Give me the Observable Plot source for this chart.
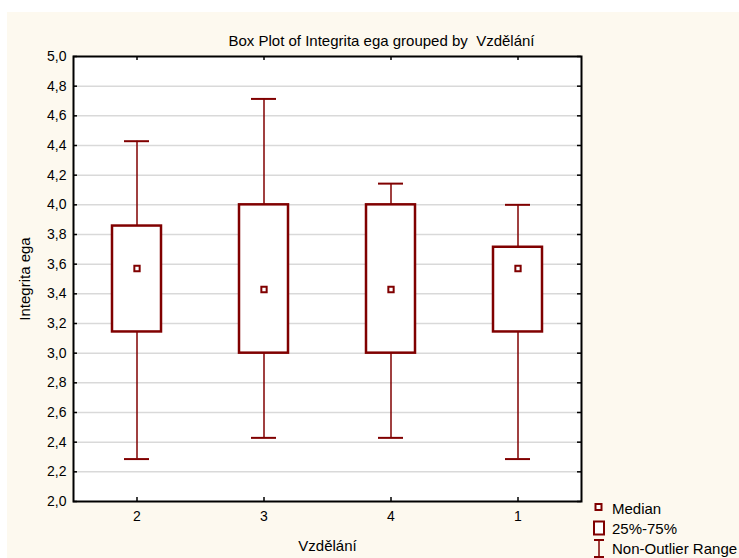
<!DOCTYPE html>
<html><head><meta charset="utf-8">
<script src="https://cdn.jsdelivr.net/npm/d3@7"></script>
<script src="https://cdn.jsdelivr.net/npm/@observablehq/plot@0.6"></script>
<style>
body{margin:0;background:#fff;font-family:"Liberation Sans",Arial,sans-serif;}
#wrap{position:relative;width:739px;height:558px;overflow:hidden;}
#bg{position:absolute;left:7px;top:12px;width:732px;height:546px;background:#fdf9ef;}
#chart{position:absolute;left:0;top:0;}
#chart svg [aria-label$="tick label"], #chart svg [aria-label$="tick label"] text{font-size:14px !important;}
#legend{position:absolute;left:592px;top:498px;font-size:15px;color:#000;white-space:nowrap;}
#legend .row{height:20px;display:flex;align-items:center;}
#legend svg{width:14px;height:20px;margin-right:6px;flex:none;}
</style></head>
<body>
<div id="wrap"><div id="bg"></div><div id="chart"></div>
<div id="legend">
 <div class="row"><svg viewBox="0 0 14 20"><rect x="3.5" y="6" width="6" height="6" fill="white" stroke="#800000" stroke-width="2"/></svg>Median</div>
 <div class="row"><svg viewBox="0 0 14 20"><rect x="2" y="3.5" width="10" height="13" fill="white" stroke="#800000" stroke-width="2"/></svg>25%-75%</div>
 <div class="row"><svg viewBox="0 0 14 20"><line x1="7" x2="7" y1="2" y2="19" stroke="#800000" stroke-width="1.5"/><line x1="2" x2="12" y1="2" y2="2" stroke="#800000" stroke-width="2"/><line x1="2" x2="12" y1="19" y2="19" stroke="#800000" stroke-width="2"/></svg>Non-Outlier Range</div>
</div>
</div>
<script>
const categories = ["2", "3", "4", "1"];
const whiskerLow = [2.286, 2.429, 2.429, 2.286];
const q1 = [3.143, 3.0, 3.0, 3.143];
const median = [3.571, 3.429, 3.429, 3.571];
const q3 = [3.857, 4.0, 4.0, 3.714];
const whiskerHigh = [4.429, 4.714, 4.143, 4.0];
const yTicks = [2.0, 2.2, 2.4, 2.6, 2.8, 3.0, 3.2, 3.4, 3.6, 3.8, 4.0, 4.2, 4.4, 4.6, 4.8, 5.0];
const title = "Box Plot of Integrita ega grouped by  Vzdělání";
const yLabel = "Integrita ega";
const xLabel = "Vzdělání";

const rows = categories.map((c, i) => ({cat: c, lo: whiskerLow[i], q1: q1[i], med: median[i], q3: q3[i], hi: whiskerHigh[i]}));
const red = "#800000";

const chart = Plot.plot({
  width: 739, height: 558,
  marginLeft: 73, marginRight: 158, marginTop: 56, marginBottom: 57,
  x: {domain: categories, padding: 0},
  y: {domain: [2, 5]},
  style: {background: "transparent", fontFamily: "'Liberation Sans', Arial, sans-serif", fontSize: "14px", color: "#000"},
  marks: [
    Plot.frame({fill: "white"}),
    Plot.gridY(yTicks.slice(1, -1), {stroke: "#d9d9d9", strokeOpacity: 1, strokeWidth: 1.5}),
    Plot.ruleX(rows, {x: "cat", y1: "q3", y2: "hi", stroke: red, strokeWidth: 1.5}),
    Plot.ruleX(rows, {x: "cat", y1: "lo", y2: "q1", stroke: red, strokeWidth: 1.5}),
    Plot.tickY(rows, {x: "cat", y: "hi", insetLeft: 51, insetRight: 51, stroke: red, strokeWidth: 2}),
    Plot.tickY(rows, {x: "cat", y: "lo", insetLeft: 51, insetRight: 51, stroke: red, strokeWidth: 2}),
    Plot.barY(rows, {x: "cat", y1: "q1", y2: "q3", fill: "white", stroke: red, strokeWidth: 2.5, insetLeft: 39, insetRight: 39}),
    Plot.dot(rows, {x: "cat", y: "med", symbol: "square", r: 3, fill: "white", stroke: red, strokeWidth: 2}),
    Plot.tickY(yTicks, {y: d => d, insetRight: 504, stroke: "#000", strokeWidth: 1.5}),
    Plot.tickY(yTicks, {y: d => d, insetLeft: 504, stroke: "#000", strokeWidth: 1.5}),
    Plot.tickX(categories, {x: d => d, insetBottom: 441, stroke: "#000", strokeWidth: 1.5}),
    Plot.tickX(categories, {x: d => d, insetTop: 441, stroke: "#000", strokeWidth: 1.5}),
    Plot.frame({stroke: "#000", strokeWidth: 2}),
    Plot.axisY(yTicks, {anchor: "left", tickSize: 0, tickPadding: 7, fontSize: 14, tickFormat: d => d.toFixed(1).replace(".", ","), label: null}),
    Plot.axisX({anchor: "bottom", tickSize: 0, tickPadding: 10, fontSize: 14, label: null}),
    Plot.text([yLabel], {frameAnchor: "left", rotate: -90, dx: -48, textAnchor: "middle", fontSize: 15}),
    Plot.text([xLabel], {frameAnchor: "bottom", dy: 49, textAnchor: "middle", fontSize: 15}),
    Plot.text([title], {frameAnchor: "top", dy: -21, dx: 54, textAnchor: "middle", fontSize: 15})
  ]
});
document.getElementById("chart").appendChild(chart);
</script>
</body></html>
